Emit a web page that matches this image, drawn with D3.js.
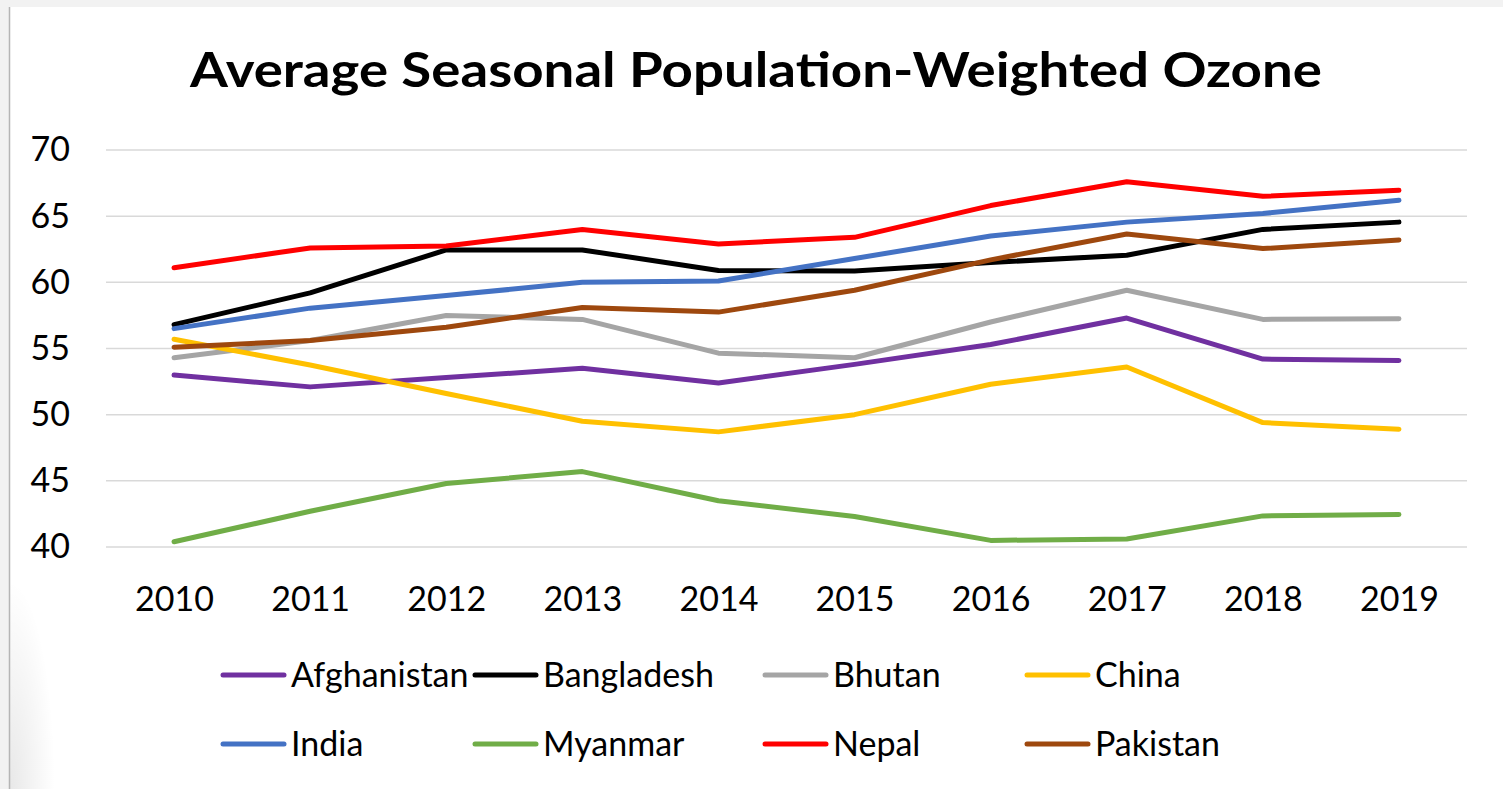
<!DOCTYPE html>
<html>
<head>
<meta charset="utf-8">
<script src="https://cdn.jsdelivr.net/npm/d3@7"></script>
<style>
  html, body { margin: 0; padding: 0; background: #f2f2f2; }
  svg { display: block; }
  text { font-family: Lato, "Open Sans", sans-serif; fill: #000; }
</style>
</head>
<body>
<div id="chart-area"><svg></svg></div>
<script>
// Chart data
const years = [2010, 2011, 2012, 2013, 2014, 2015, 2016, 2017, 2018, 2019];
const countries = ["Afghanistan", "Bangladesh", "Bhutan", "China", "India", "Myanmar", "Nepal", "Pakistan"];
const colors = ["#7030A0", "#000000", "#A5A5A5", "#FFC000", "#4472C4", "#70AD47", "#FF0000", "#9E480E"];
const afghanistan = [53.0, 52.1, 52.8, 53.5, 52.4, 53.8, 55.3, 57.3, 54.2, 54.1];
const bangladesh = [56.8, 59.2, 62.45, 62.45, 60.9, 60.85, 61.5, 62.05, 64.0, 64.55];
const bhutan = [54.3, 55.6, 57.5, 57.2, 54.65, 54.3, 57.0, 59.4, 57.2, 57.25];
const china = [55.7, 53.75, 51.6, 49.5, 48.7, 50.0, 52.3, 53.6, 49.4, 48.9];
const india = [56.5, 58.05, 59.0, 60.0, 60.1, 61.8, 63.5, 64.55, 65.2, 66.2];
const myanmar = [40.4, 42.7, 44.8, 45.7, 43.5, 42.3, 40.5, 40.6, 42.35, 42.45];
const nepal = [61.1, 62.6, 62.75, 64.0, 62.9, 63.4, 65.8, 67.6, 66.5, 66.95];
const pakistan = [55.1, 55.6, 56.6, 58.1, 57.75, 59.4, 61.7, 63.65, 62.55, 63.2];
const yTicks = [40, 45, 50, 55, 60, 65, 70];
const title = "Average Seasonal Population-Weighted Ozone";

const seriesValues = [afghanistan, bangladesh, bhutan, china, india, myanmar, nepal, pakistan];

const width = 1503;
const height = 789;
const svg = d3.select("#chart-area").select("svg")
    .attr("width", width).attr("height", height);

// soft shadow at the bottom-left of the frame (fades up and to the right)
const defs = svg.append("defs");
const shade = defs.append("radialGradient").attr("id", "shade")
    .attr("cx", 0).attr("cy", 1).attr("r", 1);
shade.append("stop").attr("offset", 0).attr("stop-color", "#000").attr("stop-opacity", 0.09);
shade.append("stop").attr("offset", 1).attr("stop-color", "#000").attr("stop-opacity", 0);

// page frame: grey strip top/left, white chart area
svg.append("rect").attr("width", width).attr("height", height).attr("fill", "#f2f2f2");
svg.append("rect").attr("x", 10).attr("y", 7).attr("width", width - 10).attr("height", height - 7).attr("fill", "#fff");
svg.append("rect").attr("x", 10).attr("y", 580).attr("width", 45).attr("height", height - 580).attr("fill", "url(#shade)");
svg.append("line").attr("x1", 9.5).attr("x2", 9.5).attr("y1", 7).attr("y2", height)
    .attr("stroke", "#b5b5b5").attr("stroke-width", 1.5);

// Plot area
const plot = { left: 106, right: 1467, top: 150, bottom: 547 };

const x = d3.scalePoint()
    .domain(years)
    .range([plot.left, plot.right])
    .padding(0.5);

const y = d3.scaleLinear()
    .domain([40, 70])
    .range([plot.bottom, plot.top]);

// Title
svg.append("text")
    .attr("x", 190)
    .attr("y", 87)
    .attr("font-size", 47)
    .attr("font-weight", 700)
    .attr("textLength", 1132)
    .attr("lengthAdjust", "spacingAndGlyphs")
    .text(title);

// Gridlines
svg.append("g")
    .selectAll("line")
    .data(yTicks)
    .join("line")
    .attr("x1", plot.left).attr("x2", plot.right)
    .attr("y1", d => y(d)).attr("y2", d => y(d))
    .attr("stroke", "#d9d9d9")
    .attr("stroke-width", 1.5);

// Y axis labels
const yAxis = svg.append("g")
    .attr("transform", `translate(${plot.left},0)`)
    .call(d3.axisLeft(y).tickValues(yTicks).tickSize(0).tickPadding(36));
yAxis.select(".domain").remove();
yAxis.selectAll("text")
    .attr("font-size", 34)
    .attr("font-family", "Lato, 'Open Sans', sans-serif")
    .attr("fill", "#000");

// X axis labels
const xAxis = svg.append("g")
    .attr("transform", `translate(0,${plot.bottom})`)
    .call(d3.axisBottom(x).tickSize(0).tickPadding(40));
xAxis.select(".domain").remove();
xAxis.selectAll("text")
    .attr("font-size", 34)
    .attr("font-family", "Lato, 'Open Sans', sans-serif")
    .attr("fill", "#000");

// Lines
const line = d3.line()
    .x((d, i) => x(years[i]))
    .y(d => y(d));

svg.append("g")
    .selectAll("path")
    .data(seriesValues)
    .join("path")
    .attr("d", line)
    .attr("fill", "none")
    .attr("stroke", (d, i) => colors[i])
    .attr("stroke-width", 5)
    .attr("stroke-linejoin", "round")
    .attr("stroke-linecap", "round");

// Legend: 4 columns, 2 rows
const legendCols = [223, 475, 765, 1027];
const legendRows = [675, 744];
const legend = svg.append("g")
    .selectAll("g")
    .data(countries)
    .join("g")
    .attr("transform", (d, i) => `translate(${legendCols[i % 4]},${legendRows[Math.floor(i / 4)]})`);

legend.append("line")
    .attr("x1", 0).attr("x2", 61)
    .attr("stroke", (d, i) => colors[i])
    .attr("stroke-width", 5)
    .attr("stroke-linecap", "round");

legend.append("text")
    .attr("x", 68)
    .attr("dy", "0.35em")
    .attr("font-size", 34)
    .text(d => d);
</script>
</body>
</html>
